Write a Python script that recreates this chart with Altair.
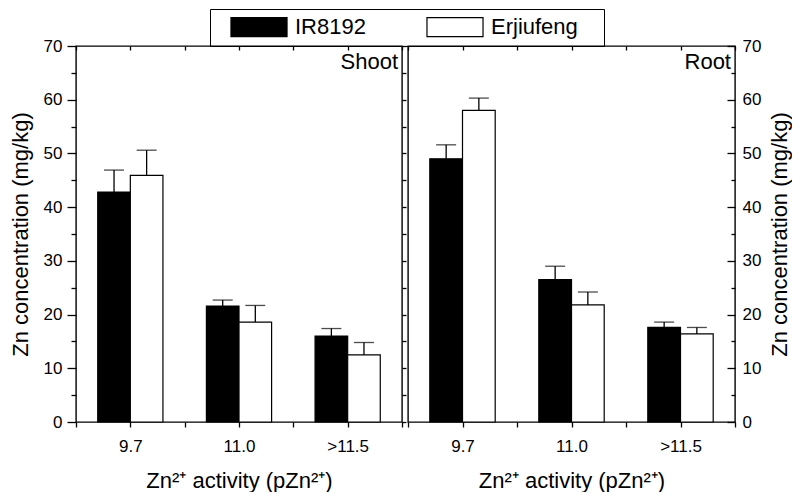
import altair as alt
import pandas as pd

categories = ["9.7", "11.0", ">11.5"]
cultivars = ["IR8192", "Erjiufeng"]
cultivar_fill = ["black", "white"]

shoot_ir8192 = [42.8, 21.6, 16.0]
shoot_ir8192_se = [4.1, 1.1, 1.4]
shoot_erjiufeng = [45.9, 18.6, 12.5]
shoot_erjiufeng_se = [4.7, 3.1, 2.3]

root_ir8192 = [49.0, 26.5, 17.6]
root_ir8192_se = [2.6, 2.5, 1.0]
root_erjiufeng = [58.0, 21.8, 16.4]
root_erjiufeng_se = [2.3, 2.4, 1.2]

y_major = [0, 10, 20, 30, 40, 50, 60, 70]
y_minor = [5, 15, 25, 35, 45, 55, 65]
y_all = sorted(y_major + y_minor)
x_ticks = [0, 1, 2, 3, 4, 5, 6]

FONT = "Liberation Sans"
W_L, W_R, H = 326, 327, 376
BAR = 0.6  # bar width in x-axis units
NB = "\u00a0"
ZW = "\u200b"
X_TITLE = "Zn\u00b2\u207a activity (pZn\u00b2\u207a)"
Y_TITLE = "Zn concentration (mg/kg)"


def frame(ir, ir_se, er, er_se):
    rows = []
    for i, cat in enumerate(categories):
        centre = 2 * i + 1
        for name, vals, ses, lo in (("IR8192", ir, ir_se, centre - BAR),
                                    ("Erjiufeng", er, er_se, centre)):
            rows.append({"category": cat, "cultivar": name, "value": vals[i],
                         "se": ses[i], "x0": lo, "x1": lo + BAR,
                         "xc": lo + BAR / 2, "top": vals[i] + ses[i]})
    return pd.DataFrame(rows)


label_expr = " : ".join(
    f"datum.value == {2 * i + 1} ? '{c}'" for i, c in enumerate(categories)
) + " : ''"

legend = alt.Legend(
    title=NB, titleOrient="left", titleFontSize=10, titlePadding=31,
    orient="none", legendX=134, legendY=-37, direction="horizontal",
    symbolType="M-2.95,-1H2.95V1H-2.95Z", symbolSize=361,
    symbolStrokeColor="black", symbolStrokeWidth=1.2, symbolOpacity=1,
    labelFont=FONT, labelFontSize=22, labelColor="black", labelOffset=25,
    columnPadding=58, padding=7, strokeColor="black",
    labelExpr=f"datum.label == 'Erjiufeng' ? datum.label + '{NB * 3}{ZW}' : datum.label",
)


def panel(df, tissue, width, side):
    xs = alt.Scale(domain=[0, 6], nice=False, zero=False)
    ys = alt.Scale(domain=[0, 70], nice=False)
    x_main = alt.Axis(values=x_ticks, labelExpr=label_expr, tickSize=5,
                      labelPadding=11, title=X_TITLE, titlePadding=16)
    if side == "left":
        y_main = alt.Axis(orient="left", values=y_major, tickSize=9,
                          labelPadding=5, title=Y_TITLE, titlePadding=11)
    else:
        y_main = alt.Axis(orient="right", values=y_major, ticks=False, tickSize=0,
                          labelPadding=7, title=Y_TITLE, titleAngle=270,
                          titlePadding=31)
    color = alt.Color("cultivar:N",
                      scale=alt.Scale(domain=cultivars, range=cultivar_fill),
                      legend=legend)
    base = alt.Chart(df)
    bars = base.mark_bar(stroke="black", strokeWidth=1.2).encode(
        x=alt.X("x0:Q", scale=xs, axis=x_main), x2="x1:Q",
        y=alt.Y("value:Q", scale=ys, axis=y_main), y2=alt.datum(0),
        color=color)
    stems = base.mark_rule(color="black", strokeWidth=1.3).encode(
        x=alt.X("xc:Q", scale=xs), y=alt.Y("value:Q", scale=ys), y2="top:Q")
    caps = base.mark_tick(color="black", thickness=1.3, size=20,
                          orient="horizontal").encode(
        x=alt.X("xc:Q", scale=xs), y=alt.Y("top:Q", scale=ys))
    label = alt.Chart(pd.DataFrame({"tissue": [tissue]})).mark_text(
        align="right", baseline="top", fontSize=22, font=FONT, color="black"
    ).encode(text="tissue:N", x=alt.value(width - 4), y=alt.value(6))
    inner = alt.layer(bars, stems, caps, label)

    carrier = base.mark_point(opacity=0)
    top_axis = alt.Axis(orient="bottom", offset=-H, values=x_ticks, tickSize=4,
                        labels=False, title=None)
    if side == "left":
        yb = alt.Axis(orient="left", values=y_minor, tickSize=5, labels=False, title=None)
        yc = alt.Axis(orient="right", values=y_all, tickSize=4, labels=False, title=None)
    else:
        yb = alt.Axis(orient="left", offset=-width, values=y_major, tickSize=8,
                      labels=False, title=None)
        yc = alt.Axis(orient="left", offset=-width, values=y_minor, tickSize=4,
                      labels=False, title=None)
    cb = carrier.encode(x=alt.X("xc:Q", scale=xs, axis=top_axis),
                        y=alt.Y("value:Q", scale=ys, axis=yb))
    cc = carrier.encode(x=alt.X("xc:Q", scale=xs, axis=None),
                        y=alt.Y("value:Q", scale=ys, axis=yc))
    return alt.layer(inner, cb, cc).resolve_scale(
        x="independent", y="independent").properties(width=width, height=H)


left = panel(frame(shoot_ir8192, shoot_ir8192_se, shoot_erjiufeng, shoot_erjiufeng_se),
             "Shoot", W_L, "left")
right = panel(frame(root_ir8192, root_ir8192_se, root_erjiufeng, root_erjiufeng_se),
              "Root", W_R, "right")

chart = alt.hconcat(left, right, spacing=-3).properties(padding=0).configure_view(
    stroke="black", strokeWidth=1.4
).configure_axis(
    labelFont=FONT, titleFont=FONT, labelFontSize=17, titleFontSize=22,
    labelColor="black", titleColor="black", tickColor="black", tickWidth=1.3,
    domain=False, grid=False, titleFontWeight="normal"
)

chart.save("out.html", embed_options={"renderer": "svg", "actions": False})
